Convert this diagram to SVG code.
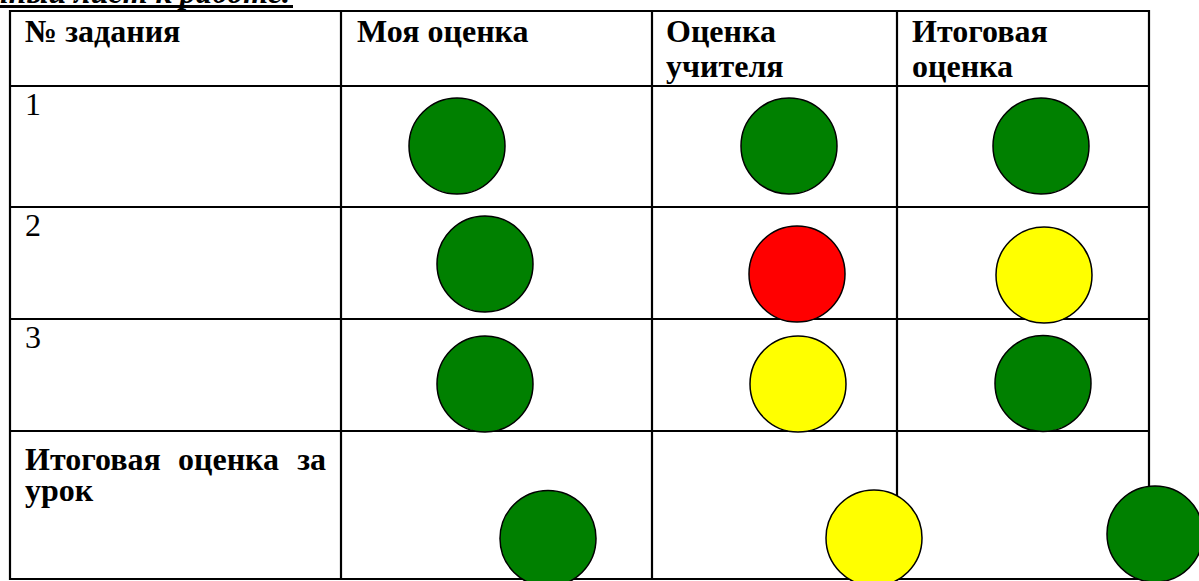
<svg xmlns="http://www.w3.org/2000/svg" width="1199" height="581" viewBox="0 0 1199 581">
<style>
.h{font-family:"Liberation Serif","Times New Roman",serif;font-weight:bold;font-size:32px;fill:#000}
.n{font-family:"Liberation Serif","Times New Roman",serif;font-size:32px;fill:#000}
.t{font-family:"Liberation Serif","Times New Roman",serif;font-weight:bold;font-style:italic;font-size:32px;fill:#000}
.grid line{stroke:#000;stroke-width:2.2}
.m{stroke:#000;stroke-width:1.5}
.g{fill:#008000}
.r{fill:#FF0000}
.y{fill:#FFFF00}
</style>
<rect width="1199" height="581" fill="#fff"/>
<g id="title">
<text class="t" x="290" y="3" text-anchor="end">Оценочный лист к работе.</text>
<rect x="0" y="5" width="293" height="3" fill="#000"/>
</g>
<g id="grid" class="grid">
<line x1="9" y1="11" x2="1150" y2="11"/>
<line x1="9" y1="86" x2="1150" y2="86"/>
<line x1="9" y1="207" x2="1150" y2="207"/>
<line x1="9" y1="319" x2="1150" y2="319"/>
<line x1="9" y1="431" x2="1150" y2="431"/>
<line x1="9" y1="579" x2="1150" y2="579"/>
<line x1="10" y1="10" x2="10" y2="580"/>
<line x1="341" y1="10" x2="341" y2="580"/>
<line x1="652" y1="10" x2="652" y2="580"/>
<line x1="897" y1="10" x2="897" y2="580"/>
<line x1="1149" y1="10" x2="1149" y2="580"/>
</g>
<g id="header">
<text class="h" x="25" y="42">№ задания</text>
<text class="h" x="357" y="42">Моя оценка</text>
<text class="h" x="666" y="42">Оценка</text>
<text class="h" x="666" y="77">учителя</text>
<text class="h" x="912" y="42">Итоговая</text>
<text class="h" x="912" y="77">оценка</text>
</g>
<g id="row1">
<text class="n" x="25" y="115">1</text>
<circle class="m g" cx="457" cy="146" r="48"/>
<circle class="m g" cx="789" cy="146" r="48"/>
<circle class="m g" cx="1041" cy="146" r="48"/>
</g>
<g id="row2">
<text class="n" x="25" y="236">2</text>
<circle class="m g" cx="485" cy="264" r="48"/>
<circle class="m r" cx="797" cy="274" r="48"/>
<circle class="m y" cx="1044" cy="275" r="48"/>
</g>
<g id="row3">
<text class="n" x="25" y="348">3</text>
<circle class="m g" cx="485" cy="384" r="48"/>
<circle class="m y" cx="798" cy="384" r="48"/>
<circle class="m g" cx="1043" cy="383.5" r="48"/>
</g>
<g id="row4">
<text class="h" x="25" y="470">Итоговая</text>
<text class="h" x="178" y="470">оценка</text>
<text class="h" x="326" y="470" text-anchor="end">за</text>
<text class="h" x="25" y="501">урок</text>
<circle class="m g" cx="548" cy="538.5" r="48"/>
<circle class="m y" cx="874" cy="538" r="48"/>
<circle class="m g" cx="1155" cy="534" r="48"/>
</g>
</svg>
